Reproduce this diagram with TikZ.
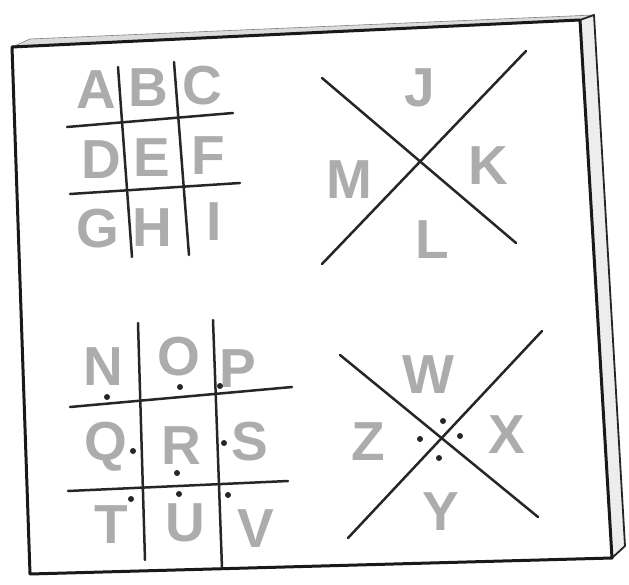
\documentclass[tikz,border=0pt]{standalone}
\usepackage{fontspec}
\setsansfont{Liberation Sans}
\begin{document}
\begin{tikzpicture}[x=1pt,y=-1pt,
  ink/.style={line width=2.5pt, line cap=round, line join=round, black!85},
  board/.style={line width=3pt, line join=round, line cap=round, black!90},
  letter/.style={font=\sffamily\bfseries\fontsize{55}{55}\selectfont, text=gray!65, inner sep=0pt, anchor=center},
  dotmark/.style={circle, fill=black!85, inner sep=0pt, minimum size=6pt}]
\useasboundingbox (0,0) rectangle (629,585);
% board
\coordinate (tl) at (12,47);
\coordinate (tr) at (580,20);
\coordinate (br) at (612,558);
\coordinate (bl) at (30,574);
\coordinate (ttl) at (30,39);
\coordinate (ttr) at (594,15);
\coordinate (sbr) at (625,546);
\fill[gray!28] (tl) -- (ttl) -- (ttr) -- (tr) -- cycle;
\fill[gray!14] (tr) -- (ttr) -- (sbr) -- (br) -- cycle;
\draw[line width=0.6pt, gray] (tl) -- (ttl) -- (ttr);
\draw[line width=1.8pt, black!85, line join=round] (tr) -- (ttr) -- (sbr) -- (br);
\draw[board] (tl) -- (tr) -- (br) -- (bl) -- cycle;

% grid 1
\coordinate (g1v1a) at (118,67);  \coordinate (g1v1b) at (132,257);
\coordinate (g1v2a) at (174,62);  \coordinate (g1v2b) at (189,255);
\coordinate (g1h1a) at (67,127);  \coordinate (g1h1b) at (233,113);
\coordinate (g1h2a) at (70,194);  \coordinate (g1h2b) at (240,183);
\draw[ink] (g1v1a) -- (g1v1b);
\draw[ink] (g1v2a) -- (g1v2b);
\draw[ink] (g1h1a) -- (g1h1b);
\draw[ink] (g1h2a) -- (g1h2b);
\node[letter] (A) at (96,90) {A};
\node[letter] (B) at (148,88) {B};
\node[letter] (C) at (202,86) {C};
\node[letter] (D) at (101,160) {D};
\node[letter] (E) at (152,158) {E};
\node[letter] (F) at (208,156) {F};
\node[letter] (G) at (98,229) {G};
\node[letter] (H) at (152,228) {H};
\node[letter] (I) at (214,222) {I};

% X 1
\coordinate (x1a) at (322,78);  \coordinate (x1b) at (516,243);
\coordinate (x1c) at (526,51);  \coordinate (x1d) at (322,264);
\draw[ink] (x1a) -- (x1b);
\draw[ink] (x1c) -- (x1d);
\node[letter] (J) at (420,88) {J};
\node[letter] (K) at (488,166) {K};
\node[letter] (L) at (432,240) {L};
\node[letter] (M) at (349,180) {M};

% grid 2
\coordinate (g2v1a) at (138,323); \coordinate (g2v1b) at (145,560);
\coordinate (g2v2a) at (213,320); \coordinate (g2v2b) at (222,568);
\coordinate (g2h1a) at (70,407);  \coordinate (g2h1b) at (292,387);
\coordinate (g2h2a) at (68,491);  \coordinate (g2h2b) at (288,481);
\draw[ink] (g2v1a) -- (g2v1b);
\draw[ink] (g2v2a) -- (g2v2b);
\draw[ink] (g2h1a) -- (g2h1b);
\draw[ink] (g2h2a) -- (g2h2b);
\node[letter] (N) at (103,367) {N};
\node[letter] (O) at (179,357) {O};
\node[letter] (P) at (238,369) {P};
\node[letter] (Q) at (106,447) {Q};
\node[letter] (R) at (181,446) {R};
\node[letter] (S) at (250,442) {S};
\node[letter] (T) at (111,525) {T};
\node[letter] (U) at (185,523) {U};
\node[letter] (V) at (256,529) {V};
\node[dotmark] (dN) at (107,397) {};
\node[dotmark] (dO) at (180,387) {};
\node[dotmark] (dP) at (220,386) {};
\node[dotmark] (dQ) at (133,451) {};
\node[dotmark] (dR) at (177,473) {};
\node[dotmark] (dS) at (224,443) {};
\node[dotmark] (dT) at (131,499) {};
\node[dotmark] (dU) at (179,494) {};
\node[dotmark] (dV) at (228,495) {};

% X 2
\coordinate (x2a) at (340,355); \coordinate (x2b) at (538,517);
\coordinate (x2c) at (542,331); \coordinate (x2d) at (348,538);
\draw[ink] (x2a) -- (x2b);
\draw[ink] (x2c) -- (x2d);
\node[letter] (W) at (428,375) {W};
\node[letter] (X) at (507,435) {X};
\node[letter] (Y) at (441,512) {Y};
\node[letter] (Z) at (368,442) {Z};
\node[dotmark] (dW) at (443,421) {};
\node[dotmark] (dX) at (460,436) {};
\node[dotmark] (dY) at (439,458) {};
\node[dotmark] (dZ) at (420,439) {};
\end{tikzpicture}
\end{document}
